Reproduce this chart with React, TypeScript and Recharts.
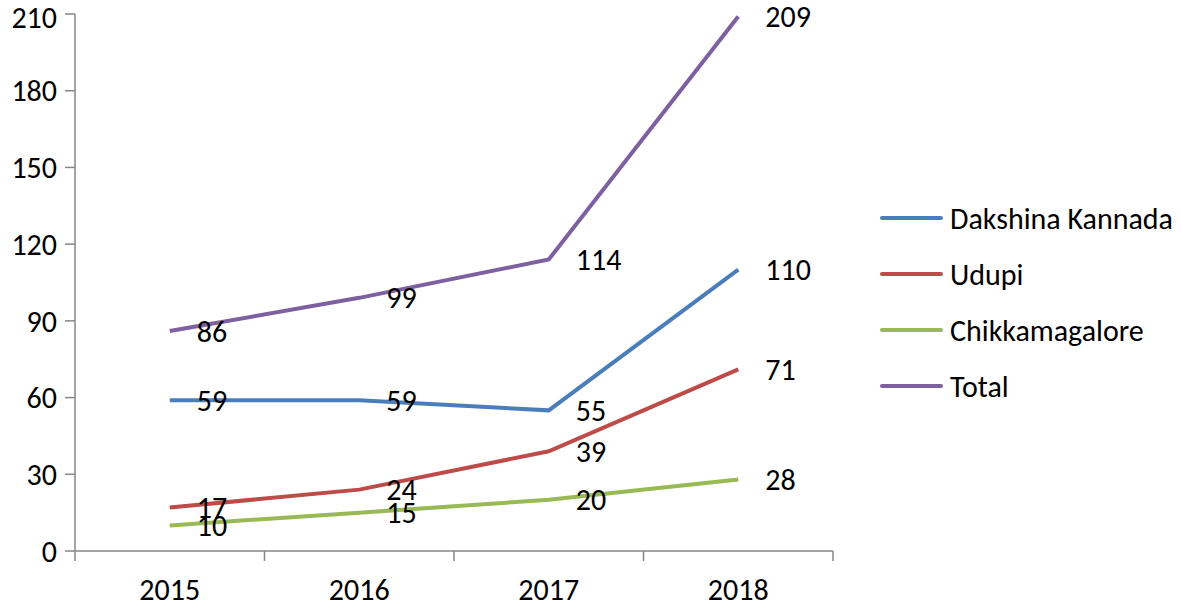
import React from "react";
import { LineChart, Line, XAxis, YAxis, LabelList } from "recharts";

const years = ["2015", "2016", "2017", "2018"];
const dakshina = [59, 59, 55, 110];
const udupi = [17, 24, 39, 71];
const chikka = [10, 15, 20, 28];
const total = [86, 99, 114, 209];
const yTicks = [0, 30, 60, 90, 120, 150, 180, 210];

const FONT = "Carlito, 'Open Sans', sans-serif";
const FS = 30;

const series = [
  { key: "dk", name: "Dakshina Kannada", color: "#4a7ebb", values: dakshina },
  { key: "ud", name: "Udupi", color: "#be4b48", values: udupi },
  { key: "ck", name: "Chikkamagalore", color: "#98b954", values: chikka },
  { key: "tot", name: "Total", color: "#7d60a0", values: total },
];

// numeric x so axis ticks can sit on the category boundaries like Excel
const rows = years.map((year, i) => {
  const row: Record<string, number | string> = { year, x: i + 0.5 };
  series.forEach((s) => (row[s.key] = s.values[i]));
  return row;
});

const PointLabel = (props: any) => {
  const { x, y, value } = props;
  return (
    <text
      x={x + 27}
      y={y}
      dominantBaseline="central"
      fontSize={FS}
      fontFamily={FONT}
      fill="#000"
    >
      {value}
    </text>
  );
};

const LegendBox = () => (
  <div
    style={{
      position: "absolute",
      left: 880,
      top: 190,
      fontFamily: FONT,
      fontSize: FS,
      color: "#000",
    }}
  >
    {series.map((s) => (
      <div
        key={s.key}
        style={{ display: "flex", alignItems: "center", height: 56 }}
      >
        <span
          style={{
            width: 63,
            height: 4,
            borderRadius: 2,
            background: s.color,
            marginRight: 7,
          }}
        />
        {s.name}
      </div>
    ))}
  </div>
);

export default function App() {
  return (
    <div
      style={{
        position: "absolute",
        left: 0,
        top: 0,
        width: 1181,
        height: 604,
        background: "#fff",
      }}
    >
      <LineChart
        width={1181}
        height={604}
        data={rows}
        margin={{ top: 14, right: 348, bottom: 0, left: 0 }}
      >
        <YAxis
          domain={[0, 210]}
          ticks={yTicks}
          width={75}
          tickSize={10}
          tickMargin={8}
          axisLine={{ stroke: "#868686", strokeWidth: 1.5 }}
          tickLine={{ stroke: "#868686", strokeWidth: 1.5 }}
          tick={{ fill: "#000", fontSize: FS, fontFamily: FONT }}
        />
        <XAxis
          xAxisId="grid"
          dataKey="x"
          type="number"
          domain={[0, 4]}
          ticks={[0, 1, 2, 3, 4]}
          height={12}
          tickSize={10}
          tickFormatter={() => ""}
          axisLine={{ stroke: "#868686", strokeWidth: 1.5 }}
          tickLine={{ stroke: "#868686", strokeWidth: 1.5 }}
        />
        <XAxis
          xAxisId="lab"
          dataKey="x"
          type="number"
          domain={[0, 4]}
          ticks={rows.map((r) => r.x as number)}
          tickFormatter={(v) => years[Math.floor(v)]}
          height={41}
          axisLine={false}
          tickLine={false}
          tickMargin={10}
          tick={{ fill: "#000", fontSize: FS, fontFamily: FONT }}
        />
        {series.map((s) => (
          <Line
            key={s.key}
            xAxisId="grid"
            dataKey={s.key}
            name={s.name}
            type="linear"
            stroke={s.color}
            strokeWidth={4}
            dot={false}
            isAnimationActive={false}
          >
            <LabelList dataKey={s.key} content={<PointLabel />} />
          </Line>
        ))}
      </LineChart>
      <LegendBox />
    </div>
  );
}
